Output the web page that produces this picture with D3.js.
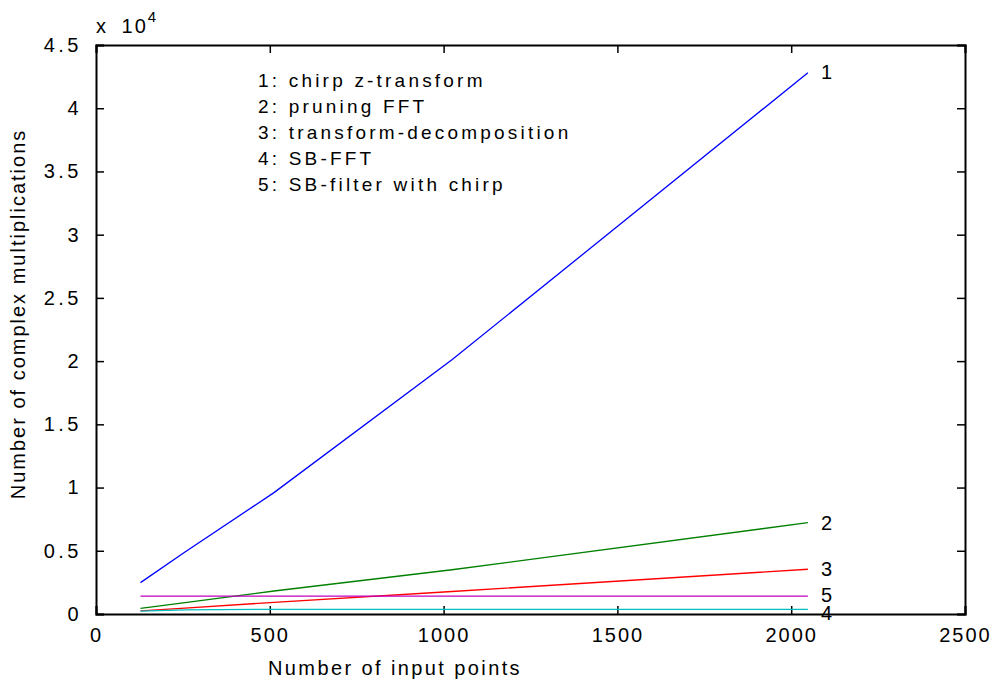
<html>

<head>
    <script src="https://d3js.org/d3.v7.min.js"></script>
</head>

<body style="margin:0;background:white">
    <svg></svg>
    <script>
        const width = 998
        const height = 684
        const marginLeft = 96
        const marginRight = 33
        const marginTop = 45
        const marginBottom = 70

        // data (y in units of 10^4 shown on axis)
        const N = [128, 256, 512, 1024, 2048]
        const chirpZ = [2480, 4900, 9600, 20100, 42800]
        const pruning = [450, 900, 1820, 3500, 7220]
        const decomposition = [240, 470, 920, 1780, 3540]
        const sbFFT = [220, 330, 370, 370, 370]
        const sbFilter = [1420, 1420, 1420, 1420, 1420]
        const seriesNames = ["1", "2", "3", "4", "5"]
        const seriesColors = ["#0000ff", "#008000", "#ff0000", "#00bfbf", "#bf00bf"]
        const legendLines = ["1: chirp z-transform", "2: pruning FFT", "3: transform-decomposition", "4: SB-FFT", "5: SB-filter with chirp"]
        const xTicks = [0, 500, 1000, 1500, 2000, 2500]
        const yTicks = [0, 0.5, 1, 1.5, 2, 2.5, 3, 3.5, 4, 4.5]

        const series = [chirpZ, pruning, decomposition, sbFFT, sbFilter]

        const xScale = d3.scaleLinear([0, 2500], [marginLeft, width - marginRight])
        const yScale = d3.scaleLinear([0, 45000], [height - marginBottom, marginTop])

        const svg = d3.select("svg")
            .attr("width", width)
            .attr("height", height)
            .attr("viewBox", [0, 0, width, height])
            .style("font-family", "'Liberation Sans', Arial, sans-serif")

        const fontSize = 20
        const tickLen = 8

        // axes (inward ticks on all four sides)
        const yPx = yTicks.map(t => t * 10000)
        svg.append("g")
            .attr("transform", `translate(${marginLeft},0)`)
            .call(d3.axisLeft(yScale).tickValues(yPx).tickSize(-tickLen).tickPadding(tickLen + 6).tickFormat((d, i) => yTicks[i]))
            .call(g => g.selectAll(".tick text").style("letter-spacing", "3.5px"))
        svg.append("g")
            .attr("transform", `translate(${width - marginRight},0)`)
            .call(d3.axisRight(yScale).tickValues(yPx).tickSize(-tickLen).tickFormat(""))
        svg.append("g")
            .attr("transform", `translate(0,${height - marginBottom})`)
            .call(d3.axisBottom(xScale).tickValues(xTicks).tickSize(-tickLen).tickPadding(tickLen + 6).tickFormat(d3.format("d")))
            .call(g => g.selectAll(".tick text").style("letter-spacing", "2px"))
        svg.append("g")
            .attr("transform", `translate(0,${marginTop})`)
            .call(d3.axisTop(xScale).tickValues(xTicks).tickSize(-tickLen).tickFormat(""))

        svg.selectAll(".domain").attr("stroke", "black").attr("stroke-width", 2)
        svg.selectAll(".tick line").attr("stroke", "black").attr("stroke-width", 1.5)
        svg.selectAll(".tick text")
            .attr("fill", "black")
            .style("font-size", fontSize + "px")

        // lines
        const line = d3.line()
            .x((d, i) => xScale(N[i]))
            .y(d => yScale(d))
        svg.append("g").selectAll("path")
            .data(series)
            .join("path")
            .attr("fill", "none")
            .attr("stroke", (d, i) => seriesColors[i])
            .attr("stroke-width", 1.3)
            .attr("d", line)

        // end labels
        const labelDy = [6, 7, 7, 11, 6]
        svg.append("g").selectAll("text")
            .data(series)
            .join("text")
            .attr("x", xScale(N[N.length - 1]) + 13)
            .attr("y", (d, i) => yScale(d[d.length - 1]) + labelDy[i])
            .style("font-size", fontSize + "px")
            .text((d, i) => seriesNames[i])

        // legend text
        svg.append("g").selectAll("text")
            .data(legendLines)
            .join("text")
            .attr("x", 258)
            .attr("y", (d, i) => 87 + i * 26)
            .style("font-size", "19px")
            .style("letter-spacing", "3.2px")
            .text(d => d)

        // exponent
        const expo = svg.append("text")
            .attr("x", 96)
            .attr("y", 33)
            .style("font-size", fontSize + "px")
            .style("letter-spacing", "2px")
        expo.append("tspan").text("x ")
        expo.append("tspan").attr("dx", 6).text("10")
        expo.append("tspan").attr("dy", -11).style("font-size", "15px").text("4")

        // axis titles
        svg.append("text")
            .attr("x", 268)
            .attr("y", 675)
            .style("font-size", fontSize + "px")
            .style("letter-spacing", "2.4px")
            .text("Number of input points")
        svg.append("text")
            .attr("transform", `translate(25,${314}) rotate(-90)`)
            .attr("text-anchor", "middle")
            .style("font-size", fontSize + "px")
            .style("letter-spacing", "2px")
            .text("Number of complex multiplications")
    </script>
</body>

</html>
